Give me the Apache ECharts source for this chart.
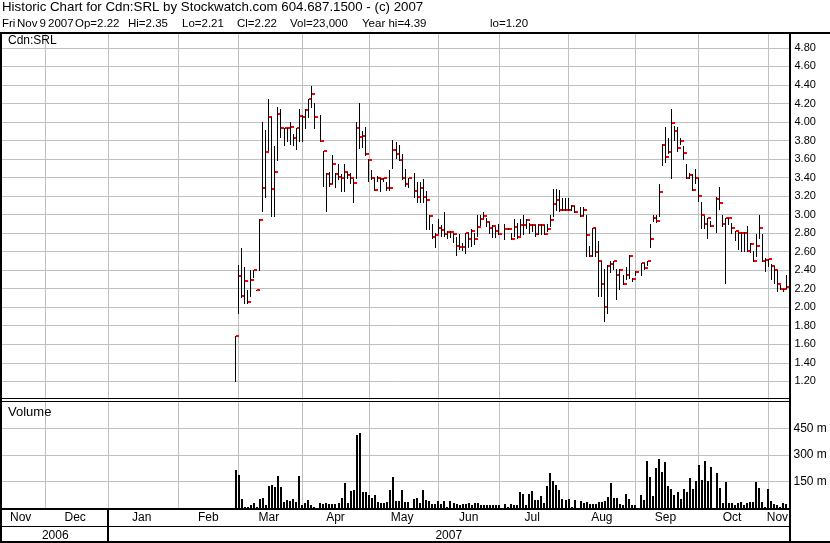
<!DOCTYPE html>
<html><head><meta charset="utf-8">
<script src="https://cdn.jsdelivr.net/npm/echarts@6/dist/echarts.min.js"></script>
<style>html,body{margin:0;padding:0;background:#fff}#c{width:830px;height:543px}</style>
</head><body><div id="c"></div>
<script>
// ---------- texts ----------
const titleLine1 = 'Historic Chart for Cdn:SRL by Stockwatch.com 604.687.1500 - (c) 2007';
const titleLine2 = ['Fri', 'Nov', '9', '2007', 'Op=2.22', 'Hi=2.35', 'Lo=2.21', 'Cl=2.22', 'Vol=23,000', 'Year hi=4.39', 'lo=1.20'];
const symbolName = 'Cdn:SRL';
const volumeName = 'Volume';
const monthNames = ['Jan','Feb','Mar','Apr','May','Jun','Jul','Aug','Sep','Oct','Nov','Dec'];
const yearLabels = ['2006', '2007'];

// ---------- axis domain (weekdays) ----------
const axisStart = '2006-11-10';
const axisEnd = '2007-11-12';
const firstTradeDate = '2007-02-28';

// ---------- daily data from 2007-02-28 (null = holiday) ----------
const high = [
1.69,2.46,2.64,2.43,2.19,2.40,2.40,2.19,2.95,4.00,3.91,4.25,4.05,3.74,4.16,4.14,3.94,3.94,4.00,3.87,
3.94,4.14,4.08,4.14,4.25,4.39,4.20,null,4.08,3.69,3.45,3.46,3.64,3.45,3.55,3.44,3.55,3.46,3.45,3.38,
4.00,4.21,3.90,3.95,3.60,3.48,3.39,3.42,3.40,3.39,3.35,3.48,3.81,3.78,3.75,3.65,3.49,3.39,null,3.45,
3.35,3.35,3.38,3.25,3.00,2.90,2.80,2.95,2.89,3.03,2.82,2.82,2.80,2.76,2.79,2.69,2.80,2.80,2.84,2.80,
3.00,3.00,3.03,2.96,2.92,2.89,2.87,2.90,null,2.90,2.85,2.80,2.95,2.91,2.95,3.00,2.95,2.91,2.90,2.89,
2.90,2.90,2.89,2.90,3.00,3.28,3.28,3.27,3.18,3.18,3.18,3.10,3.09,null,3.08,3.08,3.00,2.66,2.86,2.86,
2.71,2.50,2.41,2.46,2.50,2.50,2.41,2.41,2.35,2.43,2.56,2.31,2.39,null,2.48,2.48,2.50,2.90,3.00,3.00,
3.33,3.76,3.95,3.83,4.14,3.96,3.95,3.83,3.74,3.55,3.45,3.44,3.49,3.39,3.14,2.99,2.96,2.93,null,3.19,
3.30,3.00,2.96,2.96,2.91,2.82,2.81,2.81,2.81,2.88,2.69,2.61,2.79,3.00,2.79,2.53,2.52,2.47,2.45,2.40,
2.24,2.20,2.35];
const low = [
1.20,1.94,2.11,2.05,2.05,2.12,2.33,2.19,2.40,3.04,3.19,3.70,2.99,2.99,3.59,3.84,3.75,3.80,3.76,3.75,
3.71,3.80,3.80,3.94,4.05,4.16,3.94,null,3.79,3.31,3.04,3.31,3.34,3.30,3.38,3.25,3.26,3.40,3.34,3.14,
3.40,3.72,3.73,3.64,3.36,3.38,3.27,3.36,3.25,3.36,3.27,3.27,3.50,3.61,3.59,3.38,3.31,3.30,null,3.19,
3.14,3.14,3.14,2.84,2.84,2.75,2.65,2.80,2.77,2.77,2.75,2.76,2.70,2.56,2.63,2.62,2.59,2.65,2.66,2.68,
2.77,2.89,2.96,2.88,2.80,2.76,2.76,2.79,null,2.74,2.84,2.74,2.77,2.75,2.78,2.79,2.85,2.80,2.82,2.77,
2.79,2.79,2.79,2.82,2.88,2.99,3.05,3.04,3.05,3.05,3.05,3.05,3.03,null,2.99,3.00,2.55,2.55,2.55,2.55,
2.12,2.12,1.85,1.94,2.38,2.41,2.09,2.20,2.25,2.30,2.31,2.28,2.35,null,2.35,2.41,2.46,2.65,2.93,2.92,
2.99,3.54,3.57,3.66,3.40,3.81,3.69,3.76,3.60,3.39,3.39,3.27,3.34,3.15,2.86,2.86,2.75,2.88,null,2.81,
3.06,2.88,2.26,2.90,2.80,2.73,2.63,2.61,2.61,2.61,2.60,2.50,2.55,2.75,2.50,2.39,2.45,2.30,2.26,2.18,
2.20,2.17,2.21];
const close = [
1.69,2.34,2.12,2.28,2.06,2.29,2.40,2.19,2.94,3.29,3.68,4.05,3.28,3.46,4.09,3.94,3.93,3.94,3.95,3.83,
3.93,4.06,4.05,4.13,4.25,4.30,4.05,null,3.79,3.69,3.44,3.33,3.55,3.44,3.41,3.39,3.46,3.43,3.39,3.34,
3.94,3.84,3.85,3.65,3.59,3.39,3.27,3.39,3.38,3.39,3.29,3.29,3.70,3.65,3.59,3.39,3.33,3.39,null,3.25,
3.19,3.29,3.19,3.16,2.99,2.76,2.78,2.85,2.83,2.79,2.81,2.81,2.79,2.66,2.65,2.65,2.80,2.74,2.82,2.74,
2.87,2.95,2.99,2.92,2.85,2.88,2.82,2.79,null,2.84,2.84,2.74,2.87,2.76,2.89,2.89,2.94,2.89,2.89,2.79,
2.89,2.89,2.79,2.84,2.94,3.11,3.16,3.05,3.05,3.05,3.05,3.09,3.03,null,2.99,3.05,2.78,2.55,2.86,2.60,
2.50,2.25,2.00,2.45,2.47,2.50,2.35,2.40,2.25,2.35,2.55,2.30,2.38,null,2.48,2.42,2.50,2.74,2.96,2.93,
3.24,3.75,3.62,3.68,3.99,3.90,3.72,3.79,3.66,3.39,3.43,3.27,3.39,3.20,3.00,2.90,2.96,2.88,null,3.17,
3.12,2.90,2.96,2.96,2.86,2.82,2.80,2.80,2.80,2.61,2.68,2.50,2.66,2.86,2.50,2.51,2.52,2.45,2.40,2.25,
2.20,2.20,2.22];
// volume in thousands ("m")
const volume = [
217,184,50,6,6,17,28,6,50,56,17,123,128,117,178,117,33,45,39,50,
33,178,17,28,45,17,6,null,28,22,28,22,22,22,28,56,139,28,95,100,
413,426,89,89,72,56,72,33,28,28,33,100,173,39,39,100,33,33,null,50,
56,28,100,45,39,22,22,39,22,39,6,39,28,22,17,22,22,28,17,28,
28,17,17,17,17,17,17,17,null,22,6,22,17,17,89,78,17,78,95,45,
45,67,28,123,195,151,128,100,50,45,50,6,45,null,39,28,33,22,22,22,
33,33,39,61,139,56,56,22,17,78,50,17,17,null,72,45,268,173,67,223,
279,201,257,123,106,72,89,50,106,89,167,106,151,245,156,268,151,234,null,195,
112,28,145,28,28,17,28,33,17,28,33,33,145,112,33,6,106,39,22,17,
6,28,23];

// ---------- scales ----------
const priceMin = 1.0, priceMax = 4.96, priceStep = 0.2;
const volMin = 0, volMax = 600, volStep = 150;

// ---------- build ----------
const FONT = "'Liberation Sans', Arial, sans-serif";
const cats = [];
{
  const end = new Date(axisEnd + 'T00:00:00Z');
  for (let d = new Date(axisStart + 'T00:00:00Z'); d <= end; d.setUTCDate(d.getUTCDate() + 1)) {
    const w = d.getUTCDay();
    if (w === 0 || w === 6) continue;
    cats.push(d.toISOString().slice(0, 10));
  }
}
const monthLines = [];
for (let i = 1; i < cats.length; i++) {
  if (cats[i].slice(5, 7) !== cats[i - 1].slice(5, 7)) {
    monthLines.push(cats[i].slice(8, 10) === '01' ? i : i - 1);
  }
}
const monthLineSet = new Set(monthLines);
const bounds = [0, ...monthLines, cats.length - 1];
const monthLabelAt = {};
for (let k = 0; k < bounds.length - 1; k++) {
  const mid = Math.floor((bounds[k] + bounds[k + 1]) / 2);
  monthLabelAt[mid] = monthNames[+cats[mid].slice(5, 7) - 1];
}
const yearBoundary = cats.findIndex(c => c.slice(0, 4) === '2007');
const yearLine = cats[yearBoundary].slice(8, 10) === '01' ? yearBoundary : yearBoundary - 1;

const t0 = cats.indexOf(firstTradeDate);
const priceData = [];
high.forEach((h, k) => { if (h != null) priceData.push([t0 + k, h, low[k], close[k]]); });
const volData = [];
volume.forEach((v, k) => { if (v != null) volData.push([t0 + k, v]); });

const grid = '#c0c0c0';
const chart = echarts.init(document.getElementById('c'), null, { renderer: 'canvas' });

const xBase = {
  type: 'category', data: cats, boundaryGap: false,
  axisLine: { show: false }, axisTick: { show: false },
  splitLine: { show: true, interval: (i) => monthLineSet.has(i), lineStyle: { color: grid, width: 1 } }
};

chart.setOption({
  animation: false,
  backgroundColor: '#fff',
  grid: [
    { left: -0.5, right: 40.5, top: 33.1, height: 366.7, outerBoundsMode: 'none', containLabel: false },
    { left: -0.5, right: 40.5, top: 401.7, height: 106.3, outerBoundsMode: 'none', containLabel: false }
  ],
  xAxis: [
    Object.assign({}, xBase, { gridIndex: 0, axisLabel: { show: false } }),
    Object.assign({}, xBase, {
      gridIndex: 1,
      axisLabel: {
        show: true, interval: (i) => (i in monthLabelAt),
        formatter: (v, i) => monthLabelAt[i] || '',
        margin: 4, color: '#000', fontSize: 12, fontFamily: FONT
      }
    })
  ],
  yAxis: [
    {
      type: 'value', gridIndex: 0, position: 'right', min: priceMin, max: priceMax, interval: priceStep,
      axisLine: { show: false }, axisTick: { show: false },
      axisLabel: { margin: 5, formatter: v => v.toFixed(2), color: '#000', fontSize: 11, fontFamily: FONT,
        showMinLabel: false, showMaxLabel: false },
      splitLine: { show: true, showMinLine: false, showMaxLine: false, lineStyle: { color: grid, width: 1 } }
    },
    {
      type: 'value', gridIndex: 1, position: 'right', min: volMin, max: volMax, interval: volStep,
      axisLine: { show: false }, axisTick: { show: false },
      axisLabel: { margin: 4, formatter: v => v + ' m', color: '#000', fontSize: 12, fontFamily: FONT,
        showMinLabel: false, showMaxLabel: false },
      splitLine: { show: true, showMinLine: false, showMaxLine: false, lineStyle: { color: grid, width: 1 } }
    }
  ],
  series: [
    {
      type: 'custom', xAxisIndex: 0, yAxisIndex: 0, data: priceData,
      encode: { x: 0, y: [1, 2, 3] }, clip: true,
      renderItem: (params, api) => {
        const x = api.value(0);
        const hi = api.coord([x, api.value(1)]);
        const lo = api.coord([x, api.value(2)]);
        const cl = api.coord([x, api.value(3)]);
        const px = Math.floor(hi[0]);
        const top = Math.round(hi[1]);
        const bot = Math.round(lo[1]);
        const cy = Math.round(cl[1]);
        return {
          type: 'group', children: [
            { type: 'rect', shape: { x: px, y: top, width: 1, height: Math.max(1, bot - top + 1) }, style: { fill: '#000' } },
            { type: 'rect', shape: { x: px + 1, y: cy - 1, width: 3, height: 2 }, style: { fill: '#ff0000' } }
          ]
        };
      }
    },
    {
      type: 'custom', xAxisIndex: 1, yAxisIndex: 1, data: volData,
      encode: { x: 0, y: 1 }, clip: true,
      renderItem: (params, api) => {
        const p = api.coord([api.value(0), api.value(1)]);
        const b = api.coord([api.value(0), 0]);
        const px = Math.round(p[0]) - 1;
        const top = Math.round(p[1]);
        return { type: 'rect', shape: { x: px, y: top, width: 2, height: Math.max(0, Math.round(b[1]) - top) }, style: { fill: '#000' } };
      }
    }
  ]
});

// ---------- frame & texts ----------
const xJan = chart.convertToPixel({ xAxisIndex: 1 }, yearLine);
const rightX = 789;
const line2X = [2, 17, 39.5, 48, 75, 128, 182, 237, 290, 362, 490];
const g = [];
const R = (x, y, w, h) => g.push({ type: 'rect', silent: true, z: 100, shape: { x, y, width: w, height: h }, style: { fill: '#000' } });
const T = (text, x, y, size, align) => g.push({ type: 'text', silent: true, z: 101, x, y,
  style: { text, font: size + 'px ' + FONT, fill: '#000', align: align || 'left', verticalAlign: 'top' } });

R(0, 32, 830, 2);          // header rule
R(0, 32, 2, 511);          // left border
R(rightX, 32, 2, 511);     // right axis rule
R(0, 398, rightX, 1);      // price panel bottom
R(0, 401, rightX, 1);      // volume panel top
R(0, 508, rightX, 2);      // time axis
R(0, 526, rightX, 1);      // month row bottom
R(0, 541, 830, 2);         // bottom
R(Math.round(xJan) - 1, 509, 2, 33); // year separator

T(titleLine1, 2, 1, 13.3);
titleLine2.forEach((s, i) => T(s, line2X[i], 17.5, 11.5));
T(symbolName, 8, 34.5, 12);
T(volumeName, 8, 406, 13);
T(yearLabels[0], (2 + xJan) / 2, 529.5, 12, 'center');
T(yearLabels[1], (xJan + rightX) / 2, 529.5, 12, 'center');

chart.setOption({ graphic: g });
</script>
</body></html>
